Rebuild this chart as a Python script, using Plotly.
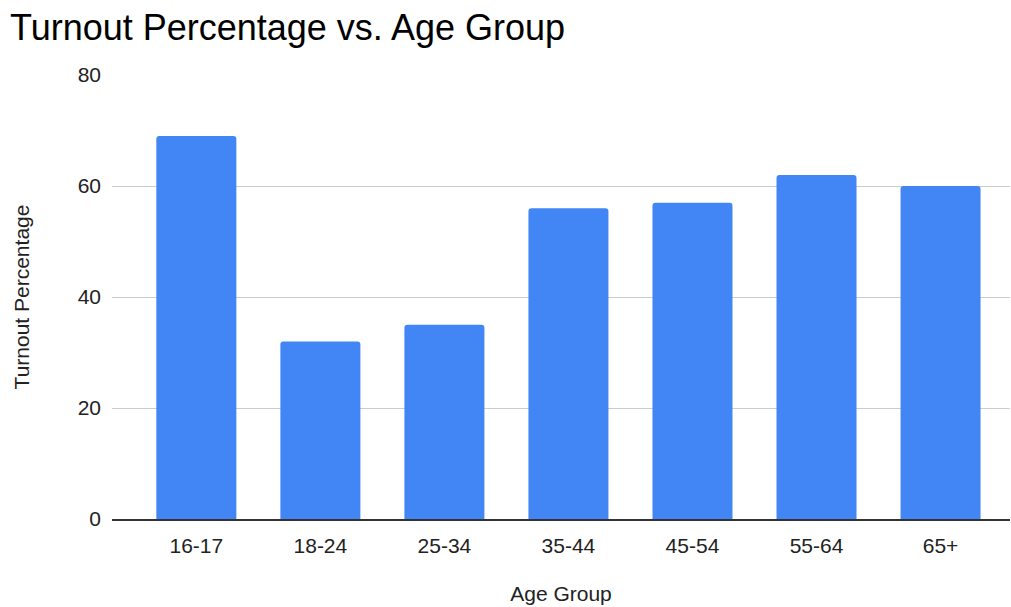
import plotly.graph_objects as go

# Turnout by age group
age_groups = ["16-17", "18-24", "25-34", "35-44", "45-54", "55-64", "65+"]
turnout_pct = [69, 32, 35, 56, 57, 62, 60]
y_ticks = [0, 20, 40, 60, 80]

FONT = "Liberation Sans, Arial, sans-serif"

fig = go.Figure(
    go.Bar(
        x=age_groups,
        y=turnout_pct,
        marker=dict(color="#4285F4", line=dict(width=0)),
        width=0.645,
    )
)

fig.update_layout(
    width=1011,
    height=607,
    paper_bgcolor="white",
    plot_bgcolor="white",
    barcornerradius=3,
    margin=dict(l=112, r=1, t=75, b=88),
    title=dict(
        text="Turnout Percentage vs. Age Group",
        font=dict(family=FONT, size=36, color="#000"),
        x=10 / 1011, xanchor="left", xref="container",
        y=0.955, yanchor="middle",
    ),
    font=dict(family=FONT, size=21, color="#222"),
    showlegend=False,
)

fig.update_xaxes(
    range=[-0.68, 6.56],
    showgrid=False,
    showline=True,
    linecolor="#333",
    linewidth=1.5,
    ticks="",
    tickfont=dict(size=21, color="#222"),
    ticklabelstandoff=7,
    title=dict(text="Age Group", font=dict(size=21, color="#222"), standoff=30),
)

fig.update_yaxes(
    range=[0, 80],
    tickvals=y_ticks,
    showgrid=True,
    gridcolor="#cccccc",
    gridwidth=1,
    zeroline=False,
    showline=False,
    ticks="",
    tickfont=dict(size=21, color="#222"),
    ticklabelstandoff=10,
    title=dict(text="Turnout Percentage", font=dict(size=21, color="#222"), standoff=42),
)

fig.write_html("out.html")
